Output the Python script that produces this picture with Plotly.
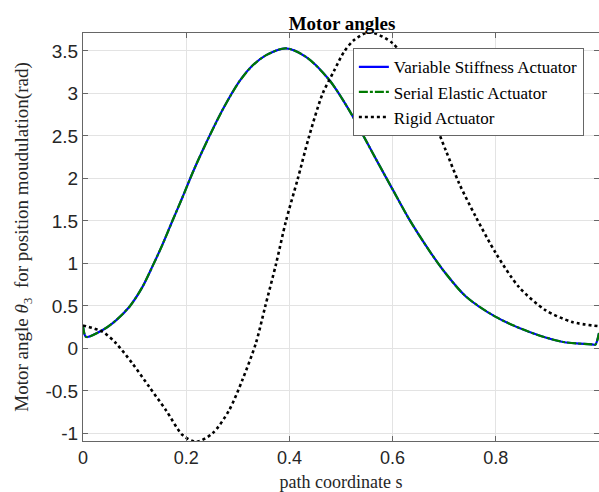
import plotly.graph_objects as go

# Variable Stiffness / Serial Elastic actuator (nearly identical curves)
s_vsa = [0.0, 0.006, 0.038, 0.064, 0.090, 0.115, 0.135, 0.154, 0.174, 0.193, 0.212, 0.232,
         0.270, 0.303, 0.329, 0.355, 0.393, 0.432, 0.477, 0.516, 0.567, 0.600, 0.632, 0.671,
         0.703, 0.742, 0.800, 0.864, 0.928, 0.986, 0.993, 1.0]
th_vsa = [0.27, 0.135, 0.215, 0.33, 0.49, 0.72, 0.97, 1.22, 1.51, 1.78, 2.06, 2.33,
          2.80, 3.14, 3.33, 3.45, 3.53, 3.43, 3.16, 2.80, 2.235, 1.87, 1.52, 1.15,
          0.88, 0.61, 0.37, 0.195, 0.078, 0.047, 0.045, 0.18]
th_sea = th_vsa

# Rigid actuator
s_rig = [0.0, 0.038, 0.064, 0.096, 0.128, 0.161, 0.193, 0.219, 0.251, 0.283, 0.309, 0.335,
         0.353, 0.374, 0.393, 0.416, 0.438, 0.464, 0.487, 0.506, 0.526, 0.555, 0.600, 0.632,
         0.677, 0.703, 0.729, 0.761, 0.800, 0.845, 0.896, 0.948, 1.0]
th_rig = [0.27, 0.195, 0.06, -0.18, -0.45, -0.73, -1.02, -1.10, -1.0, -0.73, -0.37, 0.06,
          0.49, 0.99, 1.49, 1.99, 2.49, 2.99, 3.27, 3.49, 3.63, 3.72, 3.59, 3.31,
          2.72, 2.33, 1.94, 1.55, 1.12, 0.72, 0.45, 0.31, 0.26]

x_ticks = [0, 0.2, 0.4, 0.6, 0.8, 1]
x_labels = ["0", "0.2", "0.4", "0.6", "0.8", "1"]
y_ticks = [-1, -0.5, 0, 0.5, 1, 1.5, 2, 2.5, 3, 3.5]
y_labels = ["-1", "-0.5", "0", "0.5", "1", "1.5", "2", "2.5", "3", "3.5"]

serif = "Liberation Serif, Times New Roman, serif"
sans = "Liberation Sans, Arial, Helvetica, sans-serif"

fig = go.Figure()
fig.add_trace(go.Scatter(x=s_vsa, y=th_vsa, mode="lines", name="Variable Stiffness Actuator",
                         line=dict(color="#0000ff", width=2.2, shape="spline", smoothing=0.8)))
fig.add_trace(go.Scatter(x=s_vsa, y=th_sea, mode="lines", name="Serial Elastic Actuator",
                         line=dict(color="#007a00", width=2.2, dash="9px,2px,3px,2px",
                                   shape="spline", smoothing=0.8)))
fig.add_trace(go.Scatter(x=s_rig, y=th_rig, mode="lines", name="Rigid Actuator",
                         line=dict(color="black", width=2.6, dash="dot", shape="spline", smoothing=0.8)))

axis_common = dict(showgrid=True, gridcolor="#e3e3e3", gridwidth=1, showline=True,
                   linecolor="#666666", linewidth=1, mirror="ticks", ticks="inside",
                   ticklen=5, tickcolor="#666666", zeroline=False)

fig.update_layout(
    width=599, height=492,
    margin=dict(l=83, r=0, t=33, b=51),
    paper_bgcolor="white", plot_bgcolor="white",
    title=dict(text="<b>Motor angles</b>", x=0.571, xanchor="center", y=0.952, yanchor="middle",
               font=dict(family=serif, size=19, color="black")),
    xaxis=dict(range=[0, 1], tickvals=x_ticks, ticktext=x_labels,
               tickfont=dict(family=sans, size=18, color="#262626"),
               title=dict(text="path coordinate s", font=dict(family=serif, size=18, color="#262626"),
                          standoff=13),
               **axis_common),
    yaxis=dict(range=[-1.09, 3.71], tickvals=y_ticks, ticktext=y_labels,
               tickfont=dict(family=sans, size=19, color="#262626"),
               title=dict(text="Motor angle <i>θ</i><sub>3</sub>  for position moudulation(rad)",
                          font=dict(family=serif, size=19, color="#262626"), standoff=11),
               **axis_common),
    legend=dict(x=0.523, y=0.9625, xanchor="left", yanchor="top",
                bgcolor="white", bordercolor="#666666", borderwidth=1,
                font=dict(family=serif, size=17, color="black"),
                tracegroupgap=0, itemwidth=30),
    showlegend=True,
)

fig.write_html("out.html")
